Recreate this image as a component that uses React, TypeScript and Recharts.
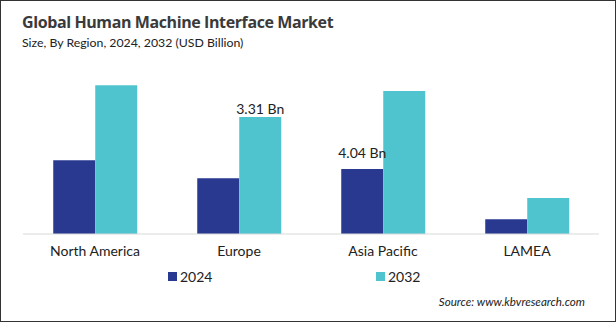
import { BarChart, Bar, XAxis, YAxis, LabelList } from "recharts";

const regions = ["North America", "Europe", "Asia Pacific", "LAMEA"];
const values2024 = [2.09, 1.58, 1.84, 0.42];
const values2032 = [4.21, 3.31, 4.05, 1.02];
const labels2024 = ["", "", "4.04 Bn", ""];
const labels2032 = ["", "3.31 Bn", "", ""];

const chartData = regions.map((region, i) => ({
  region,
  y2024: values2024[i],
  y2032: values2032[i],
  l2024: labels2024[i],
  l2032: labels2032[i],
}));

const NAVY = "#2a3990";
const TEAL = "#4fc4cf";
const FONT = "Lato, 'Open Sans', sans-serif";

const makeLabel = (texts: string[], lift: number) => (props: any) => {
  const { x, y, width, index } = props;
  const text = texts[index];
  if (!text) return null;
  return (
    <text x={x + width / 2} y={y - lift} textAnchor="middle" fontSize={14} fill="#222" fontFamily={FONT}>
      {text}
    </text>
  );
};

const legendItems = [
  { name: "2024", color: NAVY, left: 167 },
  { name: "2032", color: TEAL, left: 375 },
];

export default function App() {
  return (
    <div
      style={{
        position: "absolute",
        left: 0,
        top: 0,
        width: 616,
        height: 322,
        boxSizing: "border-box",
        border: "1px solid #333",
        background: "#fff",
        overflow: "hidden",
      }}
    >
      <div style={{ position: "absolute", left: 21, top: 10, fontFamily: "'Open Sans', sans-serif", fontWeight: 700, fontSize: 16, color: "#3a3a3a", letterSpacing: -0.4 }}>
        Global Human Machine Interface Market
      </div>
      <div style={{ position: "absolute", left: 21, top: 34, fontFamily: FONT, fontSize: 12.3, color: "#222" }}>
        Size, By Region, 2024, 2032 (USD Billion)
      </div>
      <div style={{ position: "absolute", left: 0, top: 0 }}>
        <BarChart
          width={614}
          height={320}
          data={chartData}
          margin={{ top: 74, right: 16, bottom: 55, left: 22 }}
          barCategoryGap="21%"
          barGap={0}
        >
          <XAxis
            dataKey="region"
            axisLine={{ stroke: "#d9d9d9" }}
            tickLine={false}
            tick={{ fill: "#222", fontSize: 14, fontFamily: FONT }}
            tickMargin={6}
            height={32}
            interval={0}
          />
          <YAxis hide domain={[0, 4.5]} />
          <Bar dataKey="y2024" name="2024" fill={NAVY} isAnimationActive={false}>
            <LabelList dataKey="l2024" content={makeLabel(labels2024, 11)} />
          </Bar>
          <Bar dataKey="y2032" name="2032" fill={TEAL} isAnimationActive={false}>
            <LabelList dataKey="l2032" content={makeLabel(labels2032, 3)} />
          </Bar>
        </BarChart>
      </div>
      {legendItems.map((item) => (
        <div
          key={item.name}
          style={{ position: "absolute", left: item.left, top: 267, display: "flex", alignItems: "center", fontFamily: FONT, fontSize: 14, color: "#222" }}
        >
          <span style={{ width: 9, height: 9, background: item.color, display: "inline-block", marginRight: 3 }} />
          <span>{item.name}</span>
        </div>
      ))}
      <div style={{ position: "absolute", right: 30, top: 294, fontFamily: FONT, fontStyle: "italic", fontSize: 11.6, color: "#222" }}>
        Source: www.kbvresearch.com
      </div>
    </div>
  );
}
